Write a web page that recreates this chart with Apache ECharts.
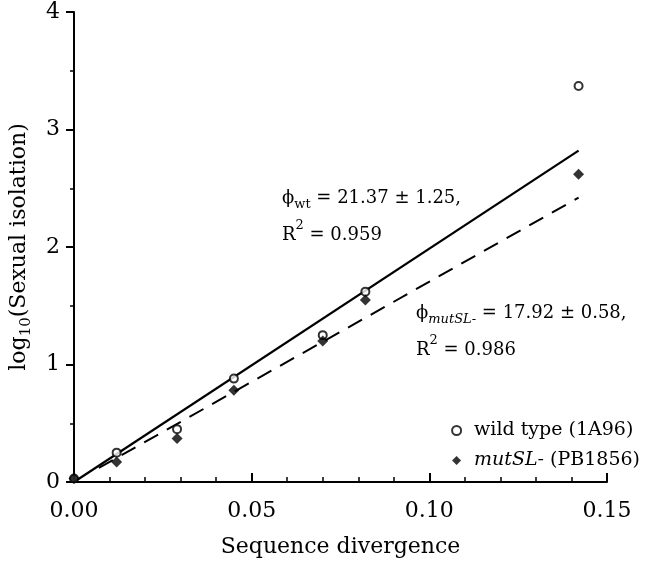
<!DOCTYPE html>
<html>
<head>
<meta charset="utf-8">
<script src="https://cdn.jsdelivr.net/npm/echarts@6/dist/echarts.min.js"></script>
<style>
  html, body { margin: 0; padding: 0; background: #fff; }
  #chart { width: 649px; height: 566px; }
</style>
</head>
<body>
<div id="chart"></div>
<script>
// divergence values for each strain pair
const divergence = [0, 0.012, 0.029, 0.045, 0.070, 0.082, 0.142];
// log10 sexual isolation
const wildType = [0.03, 0.25, 0.45, 0.88, 1.25, 1.62, 3.37];
const mutSL = [0.03, 0.17, 0.37, 0.78, 1.20, 1.55, 2.62];
// fitted lines (end points)
const fitWt = [[0, 0], [0.142, 2.82]];
const fitMut = [[0.007, 0.12], [0.142, 2.42]];
const xTicks = [0, 0.05, 0.10, 0.15];

const serif = "DejaVu Serif";
const chart = echarts.init(document.getElementById("chart"));

const pair = ys => divergence.map((d, i) => [d, ys[i]]);

// rich styles for the two fit annotations
const noteRich = italicSub => ({
  p: { fontFamily: serif, fontSize: 18, lineHeight: 24, verticalAlign: "top", fill: "#000" },
  s: { fontFamily: serif, fontSize: 13, fontStyle: italicSub ? "italic" : "normal", verticalAlign: "bottom", padding: [0, 0, 2, 0], fill: "#000" },
  b: { fontFamily: serif, fontSize: 18, lineHeight: 31, verticalAlign: "bottom", fill: "#000" },
  u: { fontFamily: serif, fontSize: 13, verticalAlign: "top", padding: [6, 0, 0, 0], fill: "#000" }
});

const option = {
  animation: false,
  grid: { left: 70, right: 42, top: 12, bottom: 84 },
  xAxis: {
    type: "value",
    min: 0,
    max: 0.15,
    interval: 0.05,
    name: "Sequence divergence",
    nameLocation: "middle",
    nameGap: 54,
    nameTextStyle: { fontFamily: serif, fontSize: 22, color: "#000" },
    axisLine: { lineStyle: { color: "#000", width: 2 } },
    axisTick: { inside: true, length: 9, lineStyle: { color: "#000", width: 2 } },
    minorTick: { show: true, splitNumber: 5, length: 5, lineStyle: { color: "#000", width: 1.5 } },
    splitLine: { show: false },
    axisLabel: {
      fontFamily: serif, fontSize: 22, color: "#000", margin: 18,
      formatter: v => xTicks.includes(+v.toFixed(2)) ? v.toFixed(2) : ""
    }
  },
  yAxis: {
    type: "value",
    min: 0,
    max: 4,
    interval: 1,
    name: "{n|log}{s|10}{n|(Sexual isolation)}",
    nameLocation: "middle",
    nameRotate: 90,
    nameGap: 40,
    nameTextStyle: {
      fontFamily: serif, fontSize: 22, color: "#000",
      rich: {
        n: { fontFamily: serif, fontSize: 22, color: "#000", lineHeight: 26, verticalAlign: "top" },
        s: { fontFamily: serif, fontSize: 15, color: "#000", lineHeight: 26, verticalAlign: "bottom" }
      }
    },
    axisLine: { lineStyle: { color: "#000", width: 2 } },
    axisTick: { length: 8, lineStyle: { color: "#000", width: 2 } },
    minorTick: { show: true, splitNumber: 2, length: 4, lineStyle: { color: "#000", width: 1.5 } },
    splitLine: { show: false },
    axisLabel: { fontFamily: serif, fontSize: 22, color: "#000", margin: 14 }
  },
  legend: {
    orient: "vertical",
    right: 4,
    top: 416,
    itemWidth: 9,
    itemHeight: 9,
    itemGap: 11,
    data: ["wild type (1A96)", "mutSL- (PB1856)"],
    formatter: name => name.startsWith("mutSL")
      ? "{i|mutSL-} (PB1856)"
      : name,
    textStyle: {
      fontFamily: serif, fontSize: 19, color: "#000", padding: [0, 0, 0, 8],
      rich: { i: { fontFamily: serif, fontSize: 19, fontStyle: "italic", color: "#000" } }
    }
  },
  series: [
    {
      type: "line",
      data: fitWt,
      showSymbol: false,
      lineStyle: { color: "#000", width: 2.2 },
      z: 1
    },
    {
      type: "line",
      data: fitMut,
      showSymbol: false,
      lineStyle: { color: "#000", width: 2, type: [16, 10] },
      z: 1
    },
    {
      name: "wild type (1A96)",
      type: "scatter",
      data: pair(wildType),
      symbol: "circle",
      symbolSize: 8,
      itemStyle: { color: "#fff", borderColor: "#000", borderWidth: 2 },
      z: 3
    },
    {
      name: "mutSL- (PB1856)",
      type: "scatter",
      data: pair(mutSL),
      symbol: "diamond",
      symbolSize: 11,
      itemStyle: { color: "#000" },
      z: 4
    }
  ],
  graphic: [
    {
      type: "text",
      left: 282,
      top: 189,
      style: {
        text: "{p|\u03d5}{s|wt}{p| = 21.37 \u00b1 1.25,}\n{b|R}{u|2}{b| = 0.959}",
        rich: noteRich(false)
      }
    },
    {
      type: "text",
      left: 416,
      top: 304,
      style: {
        text: "{p|\u03d5}{s|mutSL-}{p| = 17.92 \u00b1 0.58,}\n{b|R}{u|2}{b| = 0.986}",
        rich: noteRich(true)
      }
    }
  ]
};

chart.setOption(option);
</script>
</body>
</html>
